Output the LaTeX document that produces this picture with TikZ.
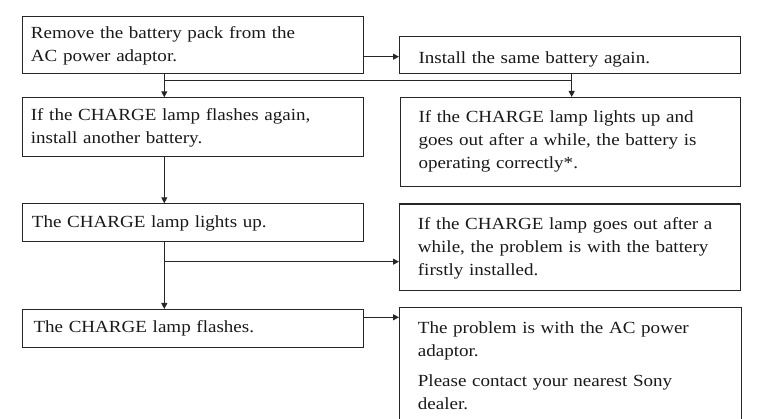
\documentclass[tikz,border=0pt]{standalone}
\usepackage{fontspec}
\setmainfont{Liberation Serif}[FakeStretch=1.12]
\usetikzlibrary{arrows.meta}
\begin{document}
\begin{tikzpicture}[x=1pt,y=-1pt,
  box/.style={draw=black!85, line width=1.1pt, rectangle, inner sep=0pt, anchor=north west},
  txt/.style={anchor=north west, inner sep=0pt, text width=340pt, align=left,
              font=\fontsize{17}{23}\selectfont, text=black!90},
  arr/.style={draw=black!85, line width=1.1pt, -{Triangle[length=6pt,width=6pt]}},
  ln/.style={draw=black!85, line width=1.1pt}]
\useasboundingbox (0,0) rectangle (782,419);
% boxes
\node[box, minimum width=341.3pt, minimum height=57.6pt] (b1) at (21.7,15.7) {};
\node[box, minimum width=341.3pt, minimum height=58.4pt] (b2) at (21.7,97.3) {};
\node[box, minimum width=341.3pt, minimum height=37.4pt] (b3) at (21.7,203.3) {};
\node[box, minimum width=341.3pt, minimum height=37.7pt] (b4) at (21.7,309) {};
\node[box, minimum width=341pt, minimum height=37.6pt] (r1) at (399,35.7) {};
\node[box, minimum width=340pt, minimum height=89pt] (r2) at (400,97) {};
\node[box, minimum width=340.5pt, minimum height=86.5pt] (r3) at (399,203.5) {};
\node[box, minimum width=341.7pt, minimum height=140pt] (r4) at (399,307.3) {};
% texts
\node[txt] (t1) at (30.7,22.2) {\strut Remove the battery pack from the\\AC power adaptor.};
\node[txt] (t2) at (418.3,47.2) {\strut Install the same battery again.};
\node[txt] (t3) at (30.7,103.9) {\strut If the CHARGE lamp flashes again,\\install another battery.};
\node[txt] (t4) at (418.3,106.6) {\strut If the CHARGE lamp lights up and\\goes out after a while, the battery is\\operating correctly*.};
\node[txt] (t5) at (31.7,211.2) {\strut The CHARGE lamp lights up.};
\node[txt] (t6) at (417.7,213.2) {\strut If the CHARGE lamp goes out after a\\while, the problem is with the battery\\firstly installed.};
\node[txt] (t7) at (33.3,316.2) {\strut The CHARGE lamp flashes.};
\node[txt] (t8) at (417.7,317.2) {\strut The problem is with the AC power\\adaptor.\\[7pt]Please contact your nearest Sony\\dealer.};
% junctions
\coordinate (ja) at (0,56.7);
\coordinate (j1) at (164.3,80.7);
\coordinate (j2) at (571.7,80.7);
\coordinate (j3) at (164.3,261.7);
\coordinate (j4) at (0,317.3);
% connectors
\draw[arr] (b1.east |- ja) -- (r1.west |- ja);
\draw[arr] (b1.south -| j1) -- (b2.north -| j1);
\draw[ln] (j1) -- (j2);
\draw[arr] (r1.south -| j2) -- (r2.north -| j2);
\draw[arr] (b2.south -| j1) -- (b3.north -| j1);
\draw[arr] (b3.south -| j1) -- (b4.north -| j1);
\draw[arr] (j3) -- (r3.west |- j3);
\draw[arr] (b4.east |- j4) -- (r4.west |- j4);
\end{tikzpicture}
\end{document}
